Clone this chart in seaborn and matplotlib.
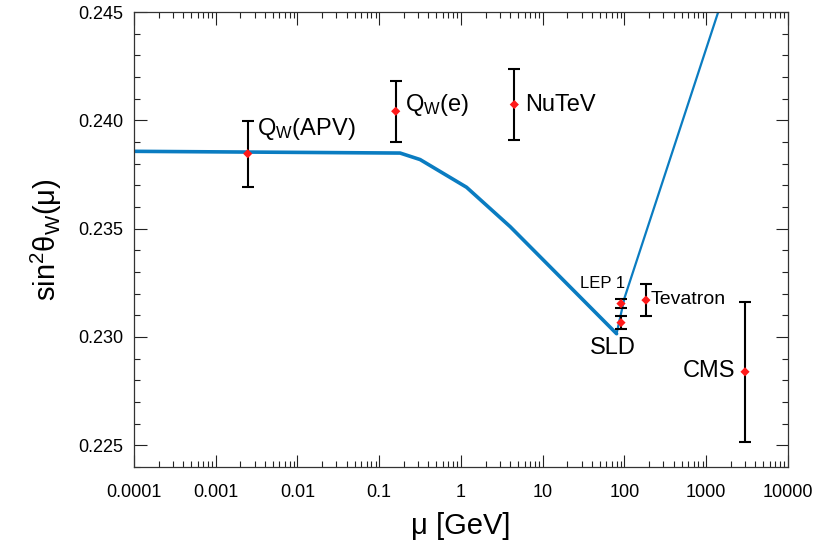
import numpy as np
import pandas as pd
import matplotlib
matplotlib.use('Agg')
import matplotlib.pyplot as plt
from matplotlib.ticker import MultipleLocator, LogLocator, NullFormatter, FixedLocator, FixedFormatter
import seaborn as sns

# --- datos: curva de running de sin^2(theta_W) ---
curve_low_mu = [1e-4, 0.18, 0.316, 1.17, 4.0, 80.0]
curve_low_s2w = [0.23857, 0.23849, 0.23819, 0.23691, 0.23509, 0.23015]
curve_high_mu = [80.0, 100.0, 1400.0]
curve_high_s2w = [0.23015, 0.2318, 0.2450]

# --- medidas experimentales ---
exp_names = ['APV', 'Qe', 'NuTeV', 'LEP1', 'SLD', 'Tevatron', 'CMS']
exp_mu = [0.00246, 0.159, 4.49, 90.6, 90.6, 183.0, 2980.0]
exp_s2w = [0.23846, 0.24042, 0.24073, 0.23154, 0.23066, 0.23170, 0.22839]
exp_err = [0.00153, 0.00141, 0.00165, 0.00019, 0.00031, 0.00075, 0.00322]
exp_labels = [r'Q$_W$(APV)', r'Q$_W$(e)', 'NuTeV', 'LEP 1', 'SLD', 'Tevatron', 'CMS']

x_ticks = [1e-4, 1e-3, 1e-2, 1e-1, 1, 10, 100, 1000, 10000]
x_tick_labels = ['0.0001', '0.001', '0.01', '0.1', '1', '10', '100', '1000', '10000']
y_ticks = [0.225, 0.230, 0.235, 0.240, 0.245]

df_low = pd.DataFrame({'mu': curve_low_mu, 's2w': curve_low_s2w})
df_high = pd.DataFrame({'mu': curve_high_mu, 's2w': curve_high_s2w})
df_exp = pd.DataFrame({'name': exp_names, 'mu': exp_mu, 's2w': exp_s2w,
                       'err': exp_err, 'label': exp_labels})

sns.set_style('ticks')
plt.rcParams['font.family'] = ['Liberation Sans', 'DejaVu Sans']
plt.rcParams['mathtext.default'] = 'regular'
plt.rcParams['text.color'] = 'black'
plt.rcParams['axes.labelcolor'] = 'black'
plt.rcParams['xtick.color'] = 'black'
plt.rcParams['ytick.color'] = 'black'

fig = plt.figure(figsize=(8.17, 5.48), dpi=100)
ax = fig.add_axes([0.164, 0.148, 0.8005, 0.830])

blue = '#0a7cc1'
sns.lineplot(data=df_low, x='mu', y='s2w', sort=False, color=blue, lw=2.6, ax=ax)
sns.lineplot(data=df_high, x='mu', y='s2w', sort=False, color=blue, lw=1.6, ax=ax)

ax.errorbar(df_exp['mu'], df_exp['s2w'], yerr=df_exp['err'], fmt='none',
            ecolor='black', elinewidth=1.5, capsize=4.2, capthick=1.5, zorder=3)
sns.scatterplot(data=df_exp, x='mu', y='s2w', marker='D', s=22, color='#ff1a1a',
                edgecolor='none', zorder=4, ax=ax)

# etiquetas de cada medida (desplazamiento en puntos)
offsets = {
    'APV': ((6.7, 18), 'left', 17),
    'Qe': ((6.7, 4.5), 'left', 17),
    'NuTeV': ((7.7, 0), 'left', 17),
    'LEP1': ((2.9, 14.2), 'right', 12),
    'SLD': ((-6.1, -18.2), 'center', 17),
    'Tevatron': ((3.4, 0.7), 'left', 14),
    'CMS': ((-7.2, 0.5), 'right', 17),
}
for _, r in df_exp.iterrows():
    off, ha, fs = offsets[r['name']]
    ax.annotate(r['label'], xy=(r['mu'], r['s2w']), xytext=off,
                textcoords='offset points', ha=ha, va='center', fontsize=fs)

ax.set_xscale('log')
ax.set_xlim(1e-4, 1e4)
ax.set_ylim(0.224, 0.245)
ax.xaxis.set_major_locator(FixedLocator(x_ticks))
ax.xaxis.set_major_formatter(FixedFormatter(x_tick_labels))
ax.xaxis.set_minor_locator(LogLocator(base=10, subs=np.arange(2, 10), numticks=20))
ax.xaxis.set_minor_formatter(NullFormatter())
ax.yaxis.set_major_locator(FixedLocator(y_ticks))
ax.yaxis.set_minor_locator(MultipleLocator(0.001))
ax.set_yticklabels([f'{v:.3f}' for v in y_ticks])

ax.tick_params(which='both', direction='in', top=True, right=True, color='#222222', width=0.8)
ax.tick_params(which='major', length=9, labelsize=13)
ax.tick_params(which='minor', length=4)
ax.tick_params(axis='y', which='major', pad=8)
ax.tick_params(axis='x', which='major', pad=12)
for s in ax.spines.values():
    s.set_color('#333333')
    s.set_linewidth(0.9)

ax.set_xlabel(r'μ [GeV]', fontsize=21, labelpad=8)
ax.set_ylabel(r'sin$^2$θ$_W$(μ)', fontsize=21, labelpad=10)

fig.savefig('out.png', dpi=100)
